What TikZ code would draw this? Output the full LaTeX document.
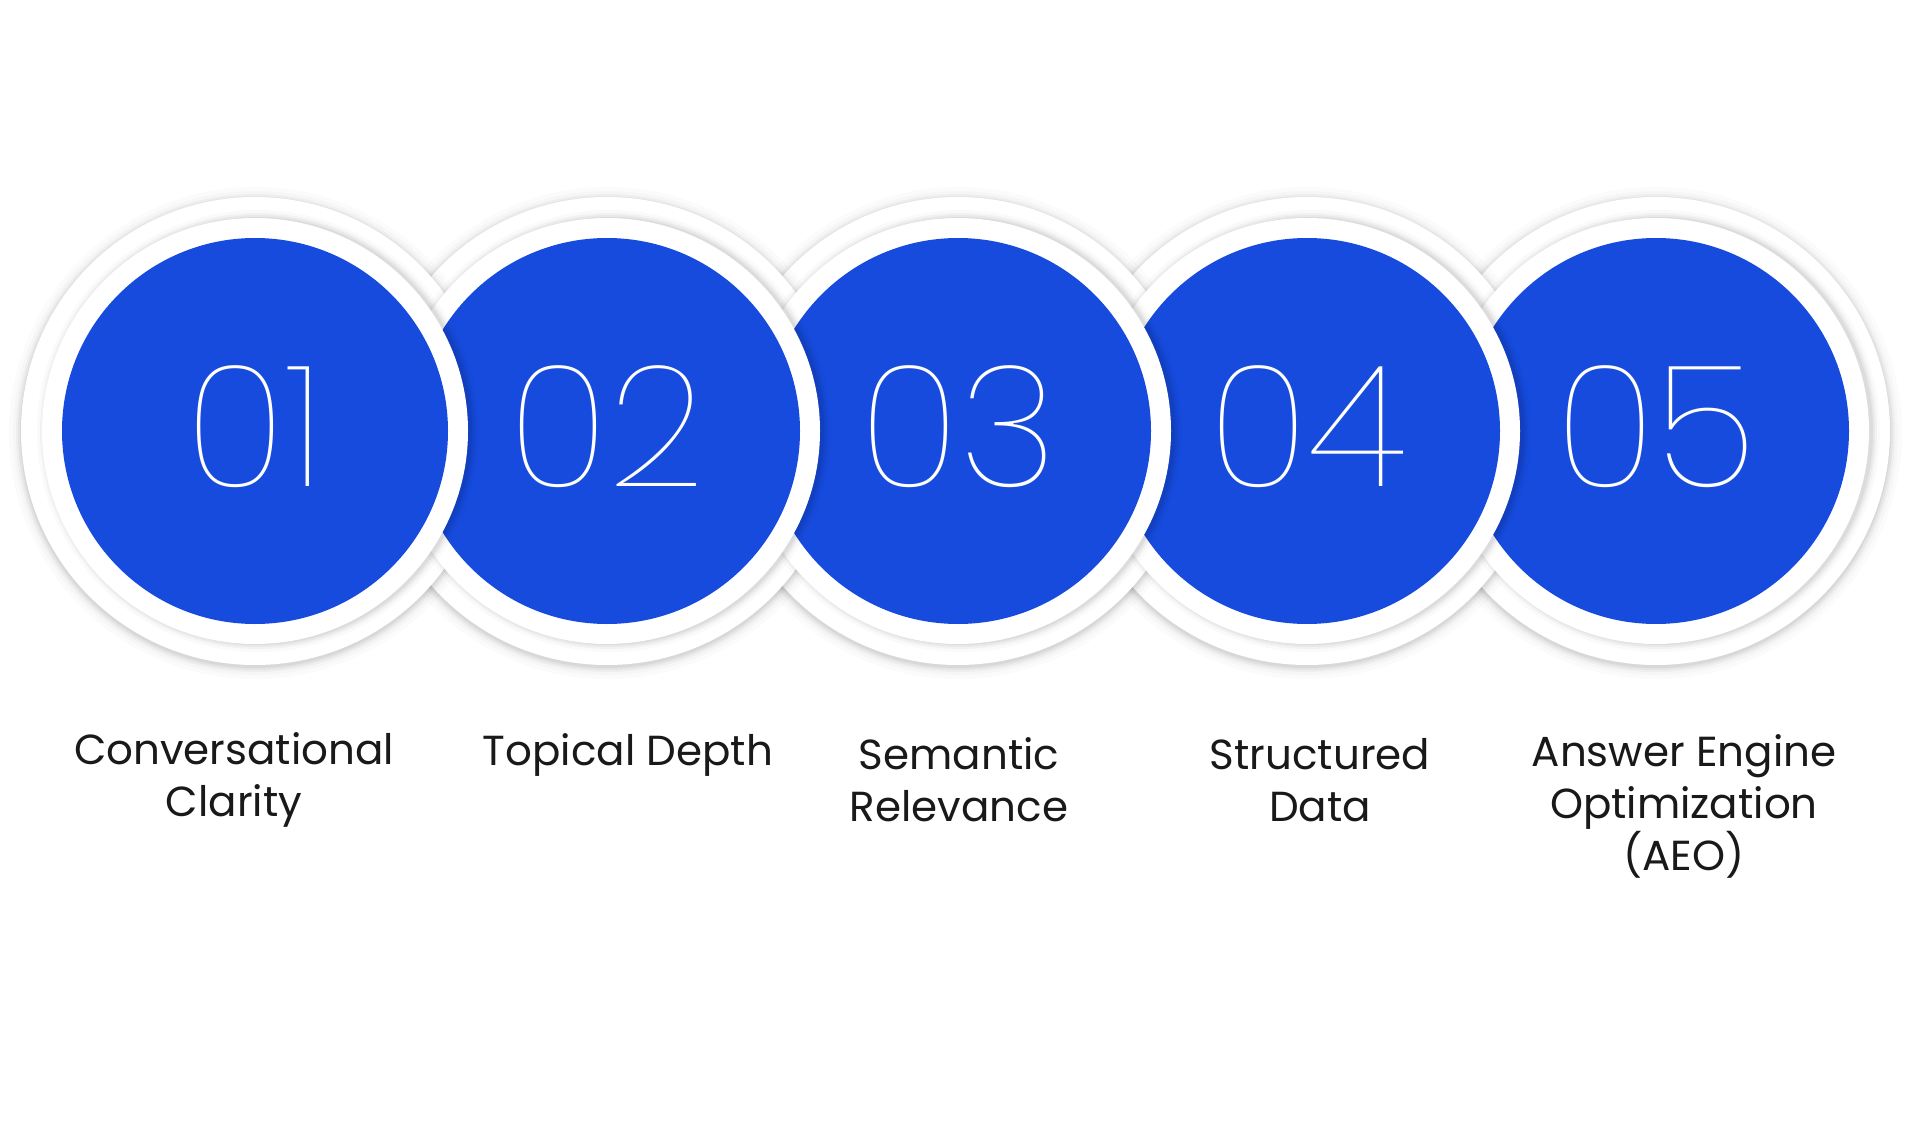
\documentclass[tikz,border=0pt]{standalone}
\usepackage{fontspec}
\setmainfont{Poppins}
\newfontfamily\thinf{Poppins Thin}
\definecolor{myblue}{HTML}{164BDE}
\tikzset{lbl/.style={align=center,font=\fontsize{42}{52}\selectfont,text=black!90},
num/.style={text=white,font=\thinf\fontsize{170}{170}\selectfont}}
\begin{document}
\begin{tikzpicture}[x=1pt,y=-1pt]
\useasboundingbox[fill=white] (0,0) rectangle (1920,1126);
\foreach \x in {1656,1307,958,607,255}{
  \foreach \k/\o in {12/0.015,8/0.02,5/0.03,3/0.04,1/0.05}{
    \fill[black,opacity=\o] (\x,433) circle (234+\k);
  }
  \fill[white] (\x,431) circle (234);
}
\foreach \i/\x in {5/1656,4/1307,3/958,2/607,1/255}{
  \foreach \k/\o in {8/0.02,5/0.03,3/0.04,1/0.05}{
    \fill[black,opacity=\o] (\x+3,431) circle (213+\k);
  }
  \fill[white] (\x,431) circle (213);
  \fill[myblue] (\x,431) circle (193);
  \node[num] (n\i) at (\x,427) {0\i};
}
\node[lbl] (l1) at (234,780) {Conversational\\Clarity};
\node[lbl] (l2) at (628,755) {Topical Depth};
\node[lbl] (l3) at (959,780) {Semantic\\Relevance};
\node[lbl] (l4) at (1320,780) {Structured\\Data};
\node[lbl] (l5) at (1684,806) {Answer Engine\\Optimization\\(AEO)};
\end{tikzpicture}
\end{document}
